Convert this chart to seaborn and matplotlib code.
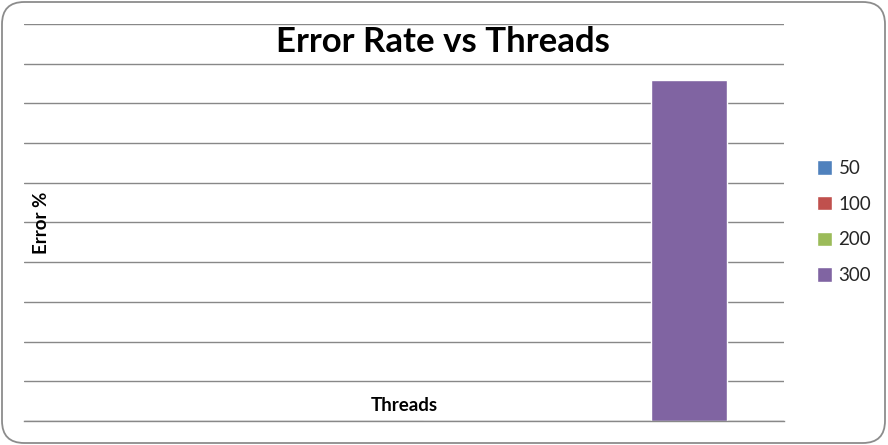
import matplotlib
matplotlib.use("Agg")
import matplotlib.pyplot as plt
from matplotlib.patches import FancyBboxPatch
import seaborn as sns
import pandas as pd

# Data
threads = ["50", "100", "200", "300"]
error_pct = [0, 0, 0, 86]
category = ["", "", "", ""]
colors = ["#4F81BD", "#C0504D", "#9BBB59", "#8064A2"]
y_ticks = [0, 10, 20, 30, 40, 50, 60, 70, 80, 90, 100]

sns.set_theme(style="white")
plt.rcParams["font.family"] = ["Lato", "DejaVu Sans"]

df = pd.DataFrame({"cat": category, "Threads": threads, "Error": error_pct})

fig = plt.figure(figsize=(8.88, 4.45), dpi=100)
ax = fig.add_axes([24 / 888, 24 / 445, 760 / 888, 397 / 445])

sns.barplot(data=df, x="cat", y="Error", hue="Threads", hue_order=threads,
            palette=colors, width=0.8, saturation=1, ax=ax, legend=True)

ax.set_xlim(-1.45, 0.55)
ax.set_ylim(0, 100)
ax.set_yticks(y_ticks)
ax.yaxis.grid(True, color="#888888", linewidth=1.0)
ax.set_axisbelow(True)
ax.tick_params(left=False, bottom=False, labelleft=False, labelbottom=False)
for s in ["left", "right", "top"]:
    ax.spines[s].set_visible(False)
ax.spines["bottom"].set_color("#888888")
ax.spines["bottom"].set_linewidth(1.0)

ax.set_xlabel("Threads", fontsize=13.5, fontweight="bold", color="black")
ax.xaxis.set_label_coords(0.5, 0.038)
ax.xaxis.label.set_verticalalignment("center")
ax.set_ylabel("Error %", fontsize=13.5, fontweight="bold", color="black")
ax.yaxis.set_label_coords(0.023, 0.5)
ax.yaxis.label.set_verticalalignment("center")

fig.text(0.499, 1 - 42 / 445, "Error Rate vs Threads", ha="center", va="center",
         fontsize=25, fontweight="bold", color="black")

handles, labels = ax.get_legend_handles_labels()
ax.legend(handles, labels, loc="center left", bbox_to_anchor=(817 / 888, 1 - 222 / 445),
          bbox_transform=fig.transFigure, frameon=False, fontsize=13.5,
          handlelength=0.8, handleheight=0.8, handletextpad=0.35, labelspacing=1.0,
          borderpad=0, borderaxespad=0)

border = FancyBboxPatch((2 / 888, 2 / 445), 883 / 888, 441 / 445,
                        boxstyle="round,pad=0,rounding_size=0.025",
                        transform=fig.transFigure, facecolor="none",
                        edgecolor="#8c8c8c", linewidth=1.3, mutation_aspect=888 / 445)
fig.patches.append(border)

fig.savefig("out.png", dpi=100)
